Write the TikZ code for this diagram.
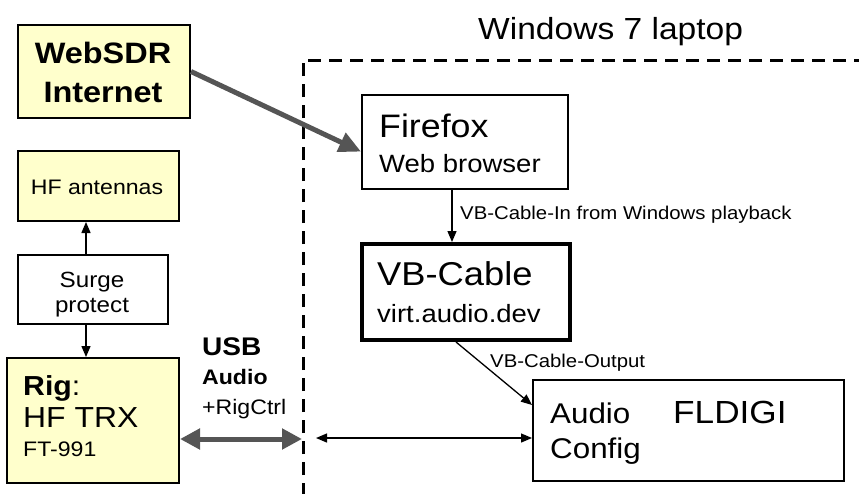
\documentclass[tikz,border=0pt]{standalone}
\usepackage{fontspec}
\setmainfont[FakeStretch=1.1]{Liberation Sans}
\usetikzlibrary{arrows.meta,calc}
\definecolor{boxyellow}{RGB}{255,255,204}
\definecolor{arrowgray}{RGB}{85,85,85}
\newcommand\fsz[1]{\fontsize{#1}{#1}\selectfont}
\begin{document}
\begin{tikzpicture}[x=1pt,y=-1pt,
  box/.style={draw=black, line width=2pt, inner sep=0pt, anchor=north west},
  ybox/.style={box, fill=boxyellow},
  txt/.style={inner sep=0pt, anchor=base west},
  ctxt/.style={inner sep=0pt, anchor=base},
  thinarrow/.style={line width=1.3pt, -{Triangle[length=11pt,width=9pt]}},
  thinboth/.style={line width=1.3pt, {Triangle[length=11pt,width=9pt]}-{Triangle[length=11pt,width=9pt]}},
  fatarrow/.style={arrowgray, line width=5pt, -{Triangle[length=22pt,width=20pt]}},
  fatboth/.style={arrowgray, line width=5pt, {Triangle[length=20pt,width=20pt]}-{Triangle[length=20pt,width=20pt]}},
  laptopline/.style={line width=3pt, dash pattern=on 13pt off 8pt}
  ]
\useasboundingbox (0,0) rectangle (859,493);

% laptop dashed frame
\coordinate (lapTR) at (862,60);
\coordinate (lapTL) at (303,60);
\coordinate (lapBL) at (303,496);
\draw[laptopline] (lapBL) -- (lapTL) -- (lapTR);
\node[txt] (title) at (478,39) {\fsz{30.5}Windows 7 laptop};

% left boxes
\node[ybox, minimum width=172pt, minimum height=93pt] (websdr) at (17,24) {};
\node[ctxt] (websdr1) at (103,63) {\fsz{29.5}\textbf{WebSDR}};
\node[ctxt] (websdr2) at (103,102) {\fsz{29.5}\textbf{Internet}};

\node[ybox, minimum width=161pt, minimum height=70pt] (hfant) at (17,150) {};
\node[ctxt] (hfant1) at (97,194) {\fsz{21}HF antennas};

\node[box, fill=white, minimum width=150pt, minimum height=69pt] (surge) at (17,254) {};
\node[ctxt] (surge1) at (92,287) {\fsz{22}Surge};
\node[ctxt] (surge2) at (92,312) {\fsz{22}protect};

\node[ybox, minimum width=172pt, minimum height=125pt] (rig) at (6,357) {};
\node[txt] (rig1) at (23,395) {\fsz{27.5}\textbf{Rig}:};
\node[txt] (rig2) at (23,427) {\fsz{29}HF TRX};
\node[txt] (rig3) at (23,456) {\fsz{21}FT-991};

\node[txt] (usb1) at (202,355) {\fsz{25.5}\textbf{USB}};
\node[txt] (usb2) at (202,384) {\fsz{21}\textbf{Audio}};
\node[txt] (usb3) at (202,414) {\fsz{21}+RigCtrl};

% laptop boxes
\node[box, fill=white, minimum width=206pt, minimum height=94pt] (firefox) at (361,94) {};
\node[txt] (firefox1) at (379,137) {\fsz{32.5}Firefox};
\node[txt] (firefox2) at (379,172) {\fsz{25}Web browser};

\node[box, fill=white, line width=4pt, minimum width=208pt, minimum height=96pt] (vbcable) at (360,242) {};
\node[txt] (vbcable1) at (377,285) {\fsz{33}VB-Cable};
\node[txt] (vbcable2) at (377,322) {\fsz{25}virt.audio.dev};

\node[box, fill=white, minimum width=311pt, minimum height=101pt] (fldigi) at (532,379) {};
\node[txt] (fldigi1) at (550,423) {\fsz{28.5}Audio};
\node[txt] (fldigi2) at (673,423) {\fsz{32}FLDIGI};
\node[txt] (fldigi3) at (550,458) {\fsz{28.5}Config};

% connectors
\coordinate (ax) at (86,0);
\draw[thinarrow] (surge.north -| ax) -- (hfant.south -| ax);
\draw[thinarrow] (surge.south -| ax) -- (rig.north -| ax);

\draw[fatarrow] (websdr.east) -- ($(firefox.north west)!0.6!(firefox.south west)$);

\coordinate (fx) at (452,0);
\draw[thinarrow] (firefox.south -| fx) -- (vbcable.north -| fx);
\node[txt] (lblin) at (460,219) {\fsz{18.5}VB-Cable-In from Windows playback};

\coordinate (vbout) at (456,0);
\coordinate (fin) at (0,405);
\draw[thinarrow] (vbcable.south -| vbout) -- (fldigi.west |- fin);
\node[txt] (lblout) at (490,367) {\fsz{18.5}VB-Cable-Output};

\coordinate (usbin) at (316,438);
\draw[thinboth] (usbin) -- (fldigi.west |- usbin);

\coordinate (usbport) at (302,439);
\draw[fatboth] (rig.east |- usbport) -- (usbport);
\end{tikzpicture}
\end{document}
